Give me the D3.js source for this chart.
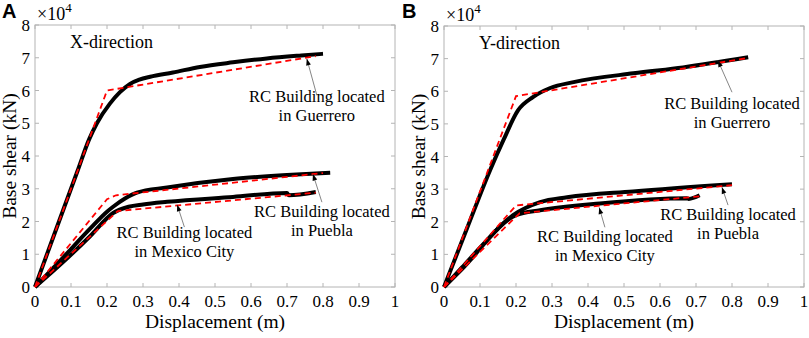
<!DOCTYPE html>
<html>
<head>
<meta charset="utf-8">
<script src="https://cdn.jsdelivr.net/npm/d3@7"></script>
<style>
  body { margin: 0; background: #fff; }
</style>
</head>
<body>
<div id="chart"></div>
<script>
// pushover curves, displacement (m) vs base shear (x10^4 kN)
var xTicks = [0, 0.1, 0.2, 0.3, 0.4, 0.5, 0.6, 0.7, 0.8, 0.9, 1];
var yTicks = [0, 1, 2, 3, 4, 5, 6, 7, 8];
var xTickLabels = ["0", "0.1", "0.2", "0.3", "0.4", "0.5", "0.6", "0.7", "0.8", "0.9", "1"];

// X-direction
var guerreroX = [[0,0],[0.06,1.8],[0.119,3.57],[0.15,4.5],[0.172,5.0],[0.208,5.6],[0.236,5.95],[0.264,6.2],[0.29,6.33],[0.32,6.42],[0.383,6.55],[0.458,6.72],[0.55,6.86],[0.644,6.98],[0.74,7.07],[0.8,7.12]];
var guerreroXBil = [[0,0],[0.2,6.0],[0.78,7.05]];
var pueblaX = [[0,0],[0.078,0.9],[0.153,1.78],[0.2,2.3],[0.217,2.45],[0.25,2.7],[0.283,2.88],[0.367,3.04],[0.55,3.3],[0.7,3.42],[0.82,3.49]];
var pueblaXBil = [[0,0],[0.2,2.68],[0.225,2.8],[0.8,3.48]];
var mexicoX = [[0,0],[0.078,0.76],[0.153,1.55],[0.217,2.26],[0.26,2.45],[0.3,2.52],[0.367,2.6],[0.55,2.75],[0.7,2.87],[0.705,2.8],[0.78,2.9]];
var mexicoXBil = [[0,0],[0.23,2.32],[0.78,2.88]];

// Y-direction
var guerreroY = [[0,0],[0.064,1.8],[0.128,3.58],[0.165,4.5],[0.206,5.42],[0.247,5.82],[0.295,6.1],[0.36,6.28],[0.526,6.55],[0.664,6.73],[0.845,7.04]];
var guerreroYBil = [[0,0],[0.2,5.85],[0.845,7.02]];
var pueblaY = [[0,0],[0.05,0.6],[0.108,1.3],[0.192,2.2],[0.267,2.6],[0.342,2.75],[0.525,2.93],[0.8,3.15]];
var pueblaYBil = [[0,0],[0.2,2.5],[0.8,3.12]];
var mexicoY = [[0,0],[0.05,0.55],[0.2,2.2],[0.267,2.35],[0.433,2.56],[0.675,2.72],[0.68,2.7],[0.71,2.81]];
var mexicoYBil = [[0,0],[0.21,2.26],[0.71,2.78]];

var W = 809, H = 338;
var serif = "'Liberation Serif', 'Times New Roman', Times, serif";
var svg = d3.select("#chart").append("svg").attr("width", W).attr("height", H)
    .style("font-family", serif);

function txt(sel) {
    return sel.append("text").style("font-family", serif).attr("fill", "#000");
}

function panel(p) {
    var x = d3.scaleLinear().domain([0, 1]).range([p.left, p.right]);
    var y = d3.scaleLinear().domain([0, 8]).range([p.bottom, p.top]);
    var g = svg.append("g");

    // box
    g.append("rect").attr("x", p.left).attr("y", p.top)
        .attr("width", p.right - p.left).attr("height", p.bottom - p.top)
        .attr("fill", "none").attr("stroke", "#b4b4b4").attr("stroke-width", 1);

    // ticks inward, all four sides
    var tl = 4;
    g.selectAll(".xtb").data(xTicks).enter().append("line")
        .attr("x1", d => x(d)).attr("x2", d => x(d))
        .attr("y1", p.bottom).attr("y2", p.bottom - tl)
        .attr("stroke", "#b4b4b4");
    g.selectAll(".xtt").data(xTicks).enter().append("line")
        .attr("x1", d => x(d)).attr("x2", d => x(d))
        .attr("y1", p.top).attr("y2", p.top + tl)
        .attr("stroke", "#b4b4b4");
    g.selectAll(".ytl").data(yTicks).enter().append("line")
        .attr("y1", d => y(d)).attr("y2", d => y(d))
        .attr("x1", p.left).attr("x2", p.left + tl)
        .attr("stroke", "#b4b4b4");
    g.selectAll(".ytr").data(yTicks).enter().append("line")
        .attr("y1", d => y(d)).attr("y2", d => y(d))
        .attr("x1", p.right).attr("x2", p.right - tl)
        .attr("stroke", "#b4b4b4");

    // tick labels
    xTicks.forEach((d, i) => {
        txt(g).attr("x", x(d)).attr("y", p.bottom + 20)
            .attr("text-anchor", "middle").attr("font-size", "17px")
            .text(xTickLabels[i]);
    });
    yTicks.forEach(d => {
        txt(g).attr("x", p.left - 5).attr("y", y(d) + 6)
            .attr("text-anchor", "end").attr("font-size", "17px")
            .text(d);
    });

    // x10^4
    var ex = txt(g).attr("x", p.left + 2).attr("y", p.top - 5).attr("font-size", "18px");
    ex.append("tspan").text("\u00d710");
    ex.append("tspan").attr("font-size", "13px").attr("dy", -8).text("4");

    // axis titles
    txt(g).attr("x", (p.left + p.right) / 2).attr("y", p.bottom + 41)
        .attr("text-anchor", "middle").attr("font-size", "19.5px").text("Displacement (m)");
    txt(g)
        .attr("transform", "translate(" + (p.left - 19) + "," + ((p.top + p.bottom) / 2) + ") rotate(-90)")
        .attr("text-anchor", "middle").attr("font-size", "19.5px").text("Base shear (kN)");

    // panel letter
    g.append("text").attr("x", p.letterX).attr("y", 18)
        .style("font-family", "'Liberation Sans', Arial, sans-serif")
        .attr("font-weight", "bold").attr("font-size", "20px").text(p.letter);

    // direction label
    txt(g).attr("x", p.left + 35).attr("y", p.top + 23)
        .attr("font-size", "18px").text(p.dir);

    var line = d3.line().x(d => x(d[0])).y(d => y(d[1])).curve(d3.curveMonotoneX);
    var bil = d3.line().x(d => x(d[0])).y(d => y(d[1]));

    p.curves.forEach(c => {
        g.append("path").attr("d", line(c.data)).attr("fill", "none")
            .attr("stroke", "#000").attr("stroke-width", 4).attr("stroke-linejoin", "round");
    });
    p.curves.forEach(c => {
        g.append("path").attr("d", bil(c.bil)).attr("fill", "none")
            .attr("stroke", "#ff0000").attr("stroke-width", 1.8).attr("stroke-dasharray", "6,4");
    });

    // annotations
    p.notes.forEach(n => {
        var x1 = x(n.tail[0]), y1 = y(n.tail[1]), x2 = x(n.head[0]), y2 = y(n.head[1]);
        g.append("line").attr("x1", x1).attr("y1", y1).attr("x2", x2).attr("y2", y2)
            .attr("stroke", "#666").attr("stroke-width", 0.8);
        var a = Math.atan2(y2 - y1, x2 - x1), L = 7, w = 0.35;
        g.append("path")
            .attr("d", "M" + x2 + "," + y2 +
                "L" + (x2 - L * Math.cos(a - w)) + "," + (y2 - L * Math.sin(a - w)) +
                "L" + (x2 - L * Math.cos(a + w)) + "," + (y2 - L * Math.sin(a + w)) + "Z")
            .attr("fill", "#000");
        var t = txt(g).attr("text-anchor", "middle").attr("font-size", "16.5px");
        t.append("tspan").attr("x", x(n.text[0])).attr("y", y(n.text[1])).text("RC Building located");
        t.append("tspan").attr("x", x(n.text[0])).attr("dy", 19).text(n.label);
    });
}

panel({
    left: 35, right: 395, top: 25, bottom: 287, letter: "A", letterX: 2, dir: "X-direction",
    curves: [{data: guerreroX, bil: guerreroXBil}, {data: pueblaX, bil: pueblaXBil}, {data: mexicoX, bil: mexicoXBil}],
    notes: [
        {tail: [0.783, 5.85], head: [0.755, 6.97], text: [0.783, 5.65], label: "in Guerrero"},
        {tail: [0.797, 2.59], head: [0.772, 3.45], text: [0.797, 2.15], label: "in Puebla"},
        {tail: [0.415, 1.83], head: [0.395, 2.51], text: [0.415, 1.5], label: "in Mexico City"}
    ]
});

panel({
    left: 444, right: 804, top: 26, bottom: 287, letter: "B", letterX: 402, dir: "Y-direction",
    curves: [{data: guerreroY, bil: guerreroYBil}, {data: pueblaY, bil: pueblaYBil}, {data: mexicoY, bil: mexicoYBil}],
    notes: [
        {tail: [0.8, 5.97], head: [0.761, 6.94], text: [0.8, 5.45], label: "in Guerrero"},
        {tail: [0.789, 2.51], head: [0.772, 3.06], text: [0.789, 2.05], label: "in Puebla"},
        {tail: [0.447, 1.83], head: [0.431, 2.44], text: [0.447, 1.37], label: "in Mexico City"}
    ]
});
</script>
</body>
</html>
